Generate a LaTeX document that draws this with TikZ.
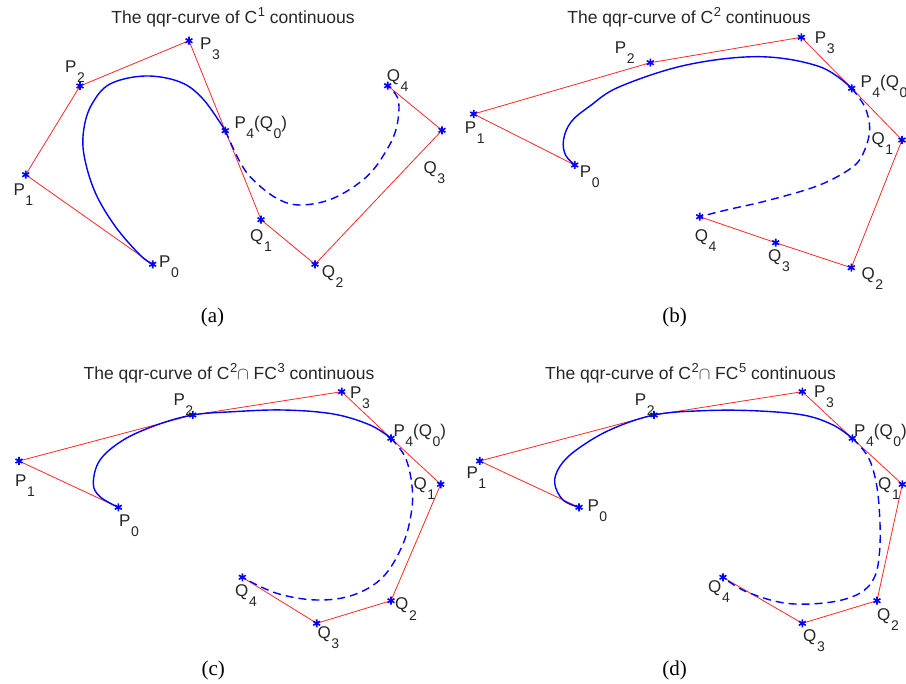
\documentclass[tikz,border=0pt]{standalone}
\usepackage{fontspec}
\setmainfont{Liberation Sans}
\newfontfamily\capfont{Liberation Serif}
\usetikzlibrary{plotmarks}
\newcommand\sbs[1]{\kern0.6pt\raisebox{-10pt}{\fontsize{14}{14}\selectfont #1}}
\newcommand\sps[1]{\kern0.6pt\raisebox{7.5pt}{\fontsize{13}{13}\selectfont #1}}
\tikzset{
  ctrl/.style={draw=red!85!white, line width=0.8pt, line join=round},
  qqr/.style={blue, line width=1.4pt},
  qqrd/.style={qqr, dash pattern=on 8pt off 5pt},
  lbl/.style={anchor=base west, inner sep=0pt, text=black!85, font=\fontsize{17}{17}\selectfont},
  ttl/.style={anchor=base, inner sep=0pt, text=black!85, font=\fontsize{17.5}{17.5}\selectfont},
  captxt/.style={anchor=base, inner sep=0pt, font=\capfont\fontsize{21}{21}\selectfont},
  pts/.style={only marks, mark=asterisk, mark size=4pt, mark options={blue, line width=1.6pt}}
}
\begin{document}
\begin{tikzpicture}[x=1pt, y=-1pt]
  \useasboundingbox (0,0) rectangle (906,684);

  % (a) C^1
  \coordinate (aP0) at (152.7,264.3);
  \coordinate (aP1) at (25.7,174.7);
  \coordinate (aP2) at (80,86);
  \coordinate (aP3) at (189,40.7);
  \coordinate (aP4) at (225.3,130.7);
  \coordinate (aQ1) at (261,219.7);
  \coordinate (aQ2) at (315,264.3);
  \coordinate (aQ3) at (442,130.3);
  \coordinate (aQ4) at (387.7,85.7);
  \draw[ctrl] (aP0) -- (aP1) -- (aP2) -- (aP3) -- (aP4) -- (aQ1) -- (aQ2) -- (aQ3) -- (aQ4);
  \draw[qqr] plot[smooth, tension=0.6] coordinates {(aP0) (140,255) (115,226) (95,192) (84,155) (84,128) (92,104) (110,84) (145,76) (180,82) (203,99) (aP4)};
  \draw[qqrd] plot[smooth, tension=0.6] coordinates {(aP4) (240,162) (253.3,180) (276.7,198.3) (300,205) (333.3,198.3) (366.7,176.7) (386.7,150) (396.7,126.7) (398.3,100) (aQ4)};
  \draw plot[pts] coordinates {(aP0) (aP1) (aP2) (aP3) (aP4) (aQ1) (aQ2) (aQ3) (aQ4)};
  \node[lbl] (laP0) at (159,268) {P\sbs{0}};
  \node[lbl] (laP1) at (13.3,196) {P\sbs{1}};
  \node[lbl] (laP2) at (65,72.7) {P\sbs{2}};
  \node[lbl] (laP3) at (200,50) {P\sbs{3}};
  \node[lbl] (laP4) at (234.3,129) {P\sbs{4}(Q\sbs{0})};
  \node[lbl] (laQ1) at (250,241.7) {Q\sbs{1}};
  \node[lbl] (laQ2) at (321.7,278) {Q\sbs{2}};
  \node[lbl] (laQ3) at (423.3,173.3) {Q\sbs{3}};
  \node[lbl] (laQ4) at (386.7,81.7) {Q\sbs{4}};
  \node[ttl] (ta) at (233,24) {The qqr-curve of C\sps{1} continuous};
  \node[captxt] (ca) at (212.5,323) {(a)};

  % (b) C^2
  \coordinate (bP0) at (574.7,165);
  \coordinate (bP1) at (473.7,114);
  \coordinate (bP2) at (650.3,62.7);
  \coordinate (bP3) at (801.3,37.3);
  \coordinate (bP4) at (851.7,88.3);
  \coordinate (bQ1) at (902,140);
  \coordinate (bQ2) at (851.3,267.7);
  \coordinate (bQ3) at (775.7,242.7);
  \coordinate (bQ4) at (699.7,216.7);
  \draw[ctrl] (bP0) -- (bP1) -- (bP2) -- (bP3) -- (bP4) -- (bQ1) -- (bQ2) -- (bQ3) -- (bQ4);
  \draw[qqr] plot[smooth, tension=0.6] coordinates {(bP0) (565.5,155) (563.5,140) (571,122) (590,106) (619.7,86.7) (686.3,65) (759.7,56.7) (819.7,66.7) (bP4)};
  \draw[qqrd] plot[smooth, tension=0.6] coordinates {(bP4) (864.7,106.7) (869.7,128.3) (864.7,150) (853,166.7) (819.7,185) (769.7,200) (726.3,210) (bQ4)};
  \draw plot[pts] coordinates {(bP0) (bP1) (bP2) (bP3) (bP4) (bQ1) (bQ2) (bQ3) (bQ4)};
  \node[lbl] (lbP0) at (579.7,177.3) {P\sbs{0}};
  \node[lbl] (lbP1) at (464.7,133.3) {P\sbs{1}};
  \node[lbl] (lbP2) at (614.7,53.3) {P\sbs{2}};
  \node[lbl] (lbP3) at (814.7,44) {P\sbs{3}};
  \node[lbl] (lbP4) at (860.3,87.7) {P\sbs{4}(Q\sbs{0}};
  \node[lbl] (lbQ1) at (871.3,145) {Q\sbs{1}};
  \node[lbl] (lbQ2) at (861.3,280) {Q\sbs{2}};
  \node[lbl] (lbQ3) at (768,261.7) {Q\sbs{3}};
  \node[lbl] (lbQ4) at (694.7,241.7) {Q\sbs{4}};
  \node[ttl] (tb) at (689,24) {The qqr-curve of C\sps{2} continuous};
  \node[captxt] (cb) at (674.7,323) {(b)};

  % (c) C^2 and FC^3
  \coordinate (cP0) at (118.3,507.3);
  \coordinate (cP1) at (19,461);
  \coordinate (cP2) at (192.7,415);
  \coordinate (cP3) at (341.7,391.7);
  \coordinate (cP4) at (391,438.3);
  \coordinate (cQ1) at (440.7,484.3);
  \coordinate (cQ2) at (391,600.7);
  \coordinate (cQ3) at (316.7,623.3);
  \coordinate (cQ4) at (242.3,577.3);
  \draw[ctrl] (cP0) -- (cP1) -- (cP2) -- (cP3) -- (cP4) -- (cQ1) -- (cQ2) -- (cQ3) -- (cQ4);
  \draw[qqr] plot[smooth, tension=0.6] coordinates {(cP0) (100,496.7) (93.3,483.3) (100,460) (123.3,440) (156.7,425) (cP2) (233.3,411.7) (283.3,410) (333.3,414) (370,425) (cP4)};
  \draw[qqrd] plot[smooth, tension=0.6] coordinates {(cP4) (405,456.7) (411.7,483.3) (411.7,510) (403.3,543.3) (383.3,576.7) (353.3,595) (316.7,600) (276.7,593.3) (cQ4)};
  \draw plot[pts] coordinates {(cP0) (cP1) (cP2) (cP3) (cP4) (cQ1) (cQ2) (cQ3) (cQ4)};
  \node[lbl] (lcP0) at (119,526.7) {P\sbs{0}};
  \node[lbl] (lcP1) at (15,486.7) {P\sbs{1}};
  \node[lbl] (lcP2) at (173.3,405.7) {P\sbs{2}};
  \node[lbl] (lcP3) at (350,398.3) {P\sbs{3}};
  \node[lbl] (lcP4) at (393.3,436.7) {P\sbs{4}(Q\sbs{0})};
  \node[lbl] (lcQ1) at (413.3,490) {Q\sbs{1}};
  \node[lbl] (lcQ2) at (395,610) {Q\sbs{2}};
  \node[lbl] (lcQ3) at (317.3,638.3) {Q\sbs{3}};
  \node[lbl] (lcQ4) at (235,596.7) {Q\sbs{4}};
  \node[ttl] (tc) at (229,380) {The qqr-curve of C\sps{2}$\cap$ FC\sps{3} continuous};
  \node[captxt] (cc) at (213.3,676) {(c)};

  % (d) C^2 and FC^5
  \coordinate (dP0) at (579,507.3);
  \coordinate (dP1) at (479.7,461);
  \coordinate (dP2) at (654,415);
  \coordinate (dP3) at (802.3,391.7);
  \coordinate (dP4) at (852.3,438.3);
  \coordinate (dQ1) at (902.3,484.3);
  \coordinate (dQ2) at (877,600.7);
  \coordinate (dQ3) at (802.3,623.3);
  \coordinate (dQ4) at (723,577.3);
  \draw[ctrl] (dP0) -- (dP1) -- (dP2) -- (dP3) -- (dP4) -- (dQ1) -- (dQ2) -- (dQ3) -- (dQ4);
  \draw[qqr] plot[smooth, tension=0.6] coordinates {(dP0) (563,500) (554.7,483.3) (559.7,466.7) (576.3,450) (609.7,430) (dP2) (703,410.7) (753,410.7) (803,415) (833,425) (dP4)};
  \draw[qqrd] plot[smooth, tension=0.6] coordinates {(dP4) (868,456.7) (876.3,483.3) (879.7,516.7) (879.7,550) (874.7,576.7) (859.7,593.3) (829.7,602.3) (786.3,603.3) (746.3,591.7) (dQ4)};
  \draw plot[pts] coordinates {(dP0) (dP1) (dP2) (dP3) (dP4) (dQ1) (dQ2) (dQ3) (dQ4)};
  \node[lbl] (ldP0) at (587.3,511.7) {P\sbs{0}};
  \node[lbl] (ldP1) at (466.3,478.3) {P\sbs{1}};
  \node[lbl] (ldP2) at (634.7,406) {P\sbs{2}};
  \node[lbl] (ldP3) at (814,397.3) {P\sbs{3}};
  \node[lbl] (ldP4) at (854,436.7) {P\sbs{4}(Q\sbs{0})};
  \node[lbl] (ldQ1) at (878,490) {Q\sbs{1}};
  \node[lbl] (ldQ2) at (877,620) {Q\sbs{2}};
  \node[lbl] (ldQ3) at (803,641.7) {Q\sbs{3}};
  \node[lbl] (ldQ4) at (708,592.3) {Q\sbs{4}};
  \node[ttl] (td) at (690.5,380) {The qqr-curve of C\sps{2}$\cap$ FC\sps{5} continuous};
  \node[captxt] (cd) at (674.7,676) {(d)};
\end{tikzpicture}
\end{document}
